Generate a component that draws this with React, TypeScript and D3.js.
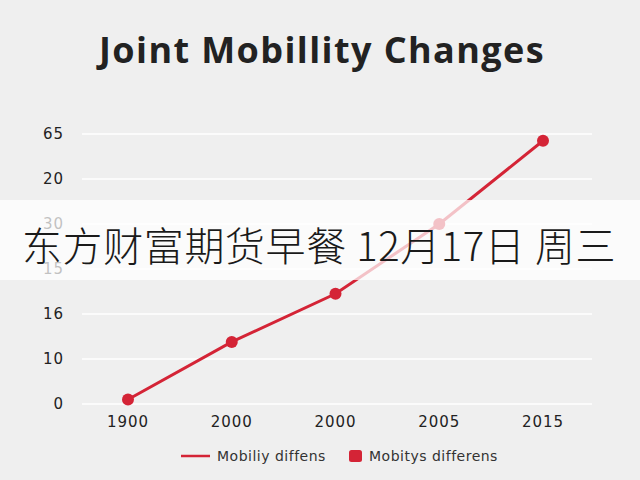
import React from 'react';
import * as d3 from 'd3';

// values are read off the picture; the y axis labels are not in order,
// so values are kept in "tick position" units (0 = first gridline)
const xLabels = ['1900', '2000', '2000', '2005', '2015'];
const yLabels = ['0', '10', '16', '15', '30', '20', '65'];
const mobility = [0.1, 1.38, 2.45, 4.0, 5.85];

const seriesLine = 'Mobiliy diffens';
const seriesDots = 'Mobitys differens';
const title = 'Joint Mobillity Changes';
const banner = '东方财富期货早餐 12月17日 周三';

const width = 640;
const height = 480;
const red = '#d42436';

const App: React.FC = () => {
  const x = d3.scalePoint<number>()
    .domain(xLabels.map((_, i) => i))
    .range([128, 543]);

  const y = d3.scaleLinear()
    .domain([0, yLabels.length - 1])
    .range([404, 134]);

  const line = d3.line<number>()
    .x((_, i) => x(i)!)
    .y(d => y(d));

  return (
    <svg width={width} height={height} style={{position: 'absolute', left: 0, top: 0}}
         fontFamily="'DejaVu Sans', sans-serif">
      <rect width={width} height={height} fill="#efefef"/>

      <text x={322} y={63} textAnchor="middle" fontFamily="'Open Sans', sans-serif" fontWeight="bold"
            fontSize={36} letterSpacing={1.4} fill="#222">{title}</text>

      {yLabels.map((t, i) => (
        <g key={i}>
          <line x1={82} x2={592} y1={y(i)} y2={y(i)} stroke="#fff" strokeWidth={1.5}/>
          <text x={64} y={y(i)} dy="0.35em" textAnchor="end" fontSize={15} letterSpacing={1}
                fill="#222">{t}</text>
        </g>
      ))}

      {xLabels.map((t, i) => (
        <text key={i} x={x(i)} y={427} textAnchor="middle" fontSize={15} letterSpacing={1}
              fill="#222">{t}</text>
      ))}

      <path d={line(mobility)!} fill="none" stroke={red} strokeWidth={3}/>
      {mobility.map((d, i) => (
        <circle key={i} cx={x(i)} cy={y(d)} r={6} fill={red}/>
      ))}

      <line x1={181} x2={210} y1={456} y2={456} stroke={red} strokeWidth={2.5}/>
      <text x={217} y={461} fontSize={14} letterSpacing={0.5} fill="#333">{seriesLine}</text>
      <rect x={349} y={450} width={13} height={12} rx={2.5} fill={red}/>
      <text x={369} y={461} fontSize={14} letterSpacing={0.5} fill="#333">{seriesDots}</text>

      <rect x={0} y={200} width={width} height={80} fill="#fff" opacity={0.72}/>
      <text x={22} y={261} fontFamily="'Noto Sans CJK SC', sans-serif" fontSize={40}
            fontWeight={300} letterSpacing={0.6} fill="#1a1a1a">{banner}</text>
    </svg>
  );
};

export default App;
